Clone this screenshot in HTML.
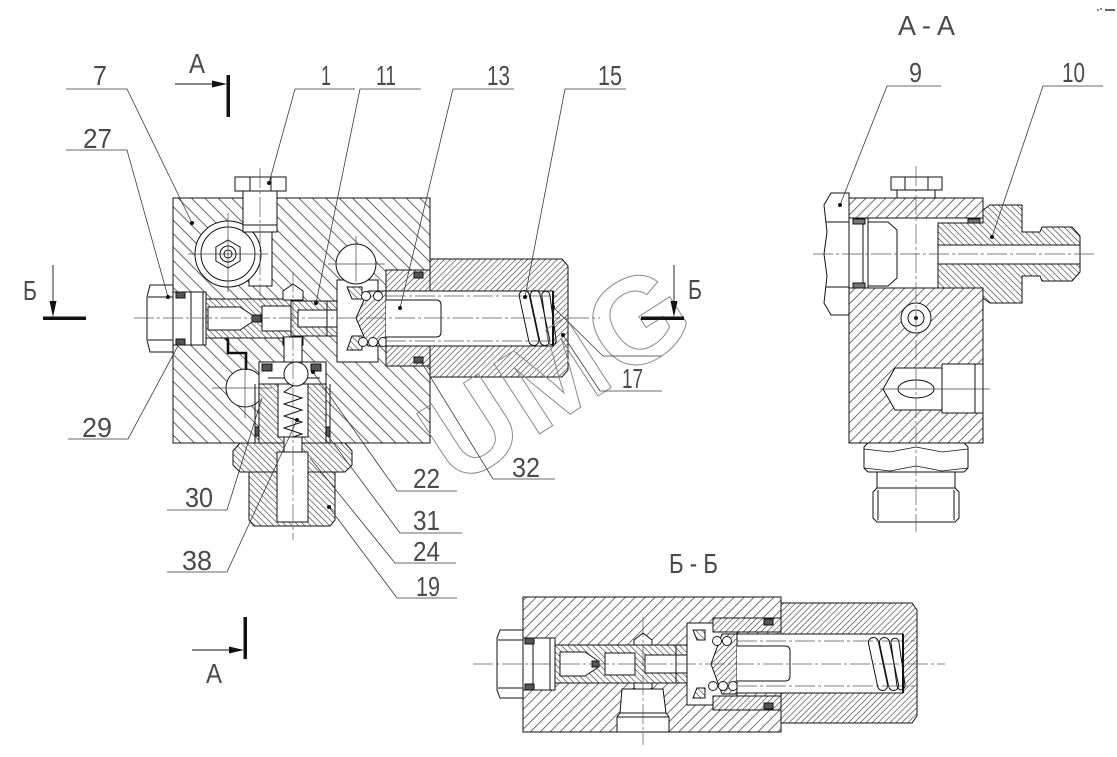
<!DOCTYPE html>
<html><head><meta charset="utf-8"><style>
html,body{margin:0;padding:0;background:#fff;}
svg{display:block;}
text{font-family:"Liberation Sans",sans-serif;fill:#4a4a4a;}
.l{stroke:#3a3a3a;stroke-width:0.8;fill:none}
.c{stroke:#555;stroke-width:0.7;stroke-dasharray:20 3 3 3;fill:none}
.t{stroke:#444;stroke-width:0.7;fill:none}
</style></head><body>
<svg width="1117" height="757" viewBox="0 0 1117 757" xmlns="http://www.w3.org/2000/svg">
<defs>
<pattern id="hb10" patternUnits="userSpaceOnUse" width="9.5" height="9.5" patternTransform="rotate(-45)"><rect width="9.5" height="9.5" fill="#fff"/><line x1="4.75" y1="-1" x2="4.75" y2="10.5" stroke="#333" stroke-width="0.75"/></pattern>
<pattern id="hb4" patternUnits="userSpaceOnUse" width="4.4" height="4.4" patternTransform="rotate(-45)"><rect width="4.4" height="4.4" fill="#fff"/><line x1="2.2" y1="-1" x2="2.2" y2="5.4" stroke="#333" stroke-width="0.6"/></pattern>
<pattern id="hf7" patternUnits="userSpaceOnUse" width="7" height="7" patternTransform="rotate(45)"><rect width="7" height="7" fill="#fff"/><line x1="3.5" y1="-1" x2="3.5" y2="8" stroke="#333" stroke-width="0.7"/></pattern>
<pattern id="hf4" patternUnits="userSpaceOnUse" width="4.2" height="4.2" patternTransform="rotate(45)"><rect width="4.2" height="4.2" fill="#fff"/><line x1="2.1" y1="-1" x2="2.1" y2="5.2" stroke="#333" stroke-width="0.6"/></pattern>
</defs>

<!-- ================= MAIN VIEW ================= -->
<g stroke="#111" stroke-width="1">
<rect x="173" y="198" width="257" height="245" fill="url(#hb10)"/>
<rect x="245" y="198" width="31" height="34" fill="#fff"/>
<rect x="249" y="232" width="23" height="54" fill="#fff"/>
<circle cx="228" cy="254" r="33" fill="#fff"/>
<circle cx="228" cy="254" r="27" fill="none"/>
<polygon points="228,240 240.1,247 240.1,261 228,268 215.9,261 215.9,247" fill="none"/>
<circle cx="228" cy="254" r="8" fill="none"/>
<circle cx="228" cy="254" r="4" fill="none"/>
<rect x="235" y="177" width="51" height="14" fill="#fff"/>
<line x1="250" y1="177" x2="250" y2="191"/><line x1="271" y1="177" x2="271" y2="191"/>
<rect x="243" y="191" width="34" height="41" fill="#fff"/>
<line x1="243" y1="225" x2="277" y2="225"/>
<polygon points="150,285 173,285 173,352 150,352 147,340 147,297" fill="#fff"/>
<line x1="148" y1="297" x2="173" y2="297"/><line x1="148" y1="340" x2="173" y2="340"/>
<rect x="173" y="292" width="33" height="53" fill="#fff"/>
<line x1="191" y1="292" x2="191" y2="345"/><line x1="203" y1="292" x2="203" y2="345"/>
<rect x="176" y="292" width="9" height="6" fill="#555"/>
<rect x="176" y="339" width="9" height="6" fill="#555"/>
<rect x="206" y="299" width="85" height="39" fill="url(#hb4)"/>
<polygon points="208,307 240,307 252,315 252,322 240,330 208,330" fill="#fff"/>
<rect x="252" y="315" width="9" height="7" fill="#555"/>
<rect x="262" y="306" width="29" height="25" fill="#fff"/>
<polygon points="283,300 283,291 293,284 303,291 303,300" fill="#fff"/>
<polygon points="283,337 283,345 293,352 303,345 303,337" fill="#fff"/>
<rect x="291" y="301" width="61" height="35" fill="url(#hb4)"/>
<rect x="298" y="310" width="54" height="17" fill="#fff"/>
<line x1="327" y1="301" x2="327" y2="336"/>
<rect x="284" y="338" width="18" height="26" fill="#fff" stroke="none"/>
<line x1="284" y1="338" x2="284" y2="362"/><line x1="302" y1="338" x2="302" y2="362"/>
<polygon points="337,280 378,280 378,291 386,291 386,346 378,346 378,362 337,362" fill="#fff"/>
<circle cx="356" cy="264" r="20" fill="#fff"/>
<polygon points="347,287 362,287 362,299 352,299" fill="url(#hb4)"/>
<polygon points="352,336 362,336 362,350 347,350" fill="url(#hb4)"/>
<polygon points="386,291 368,291 356,318 368,346 386,346" fill="url(#hf4)"/>
<g fill="#fff" stroke-width="0.9">
<circle cx="366" cy="296" r="4.5"/><circle cx="378" cy="296" r="4.5"/>
<circle cx="363" cy="342" r="4.5"/><circle cx="373" cy="342" r="4.5"/><circle cx="383" cy="342" r="4.5"/>
</g>
<polygon points="430,259 562,259 568,266 568,370 562,377 430,377" fill="url(#hf4)"/>
<rect x="386" y="270" width="44" height="21" fill="url(#hf4)"/>
<rect x="386" y="346" width="44" height="20" fill="url(#hf4)"/>
<rect x="414" y="272" width="9" height="6" fill="#555"/>
<rect x="414" y="357" width="9" height="6" fill="#555"/>
<rect x="386" y="291" width="167" height="55" fill="#fff"/>
<path d="M386,300 H436 Q441,300 441,305 V332 Q441,337 436,337 H386" fill="#fff"/>
<g fill="none" stroke-width="1">
<rect x="-5" y="-28" width="10" height="56" rx="5" transform="translate(529,318) rotate(-12)"/>
<rect x="-5" y="-28" width="10" height="56" rx="5" transform="translate(540,318) rotate(-12)"/>
<rect x="-4" y="-27" width="8" height="54" rx="4" transform="translate(549,318) rotate(-8)"/>
</g>
<line x1="553" y1="291" x2="553" y2="346" stroke-width="2"/>
<circle cx="245" cy="388" r="19" fill="#fff"/>
<polyline points="226,338 228,340 228,353 246,353 246,370" fill="none" stroke-width="2.6"/>
<rect x="259" y="362" width="67" height="22" fill="#fff"/>
<rect x="262" y="364" width="10" height="7" fill="#555"/>
<rect x="311" y="364" width="10" height="7" fill="#555"/>
<line x1="268" y1="378" x2="320" y2="378"/>
<rect x="259" y="384" width="67" height="59" fill="url(#hb4)"/>
<line x1="255" y1="384" x2="255" y2="443"/><line x1="330" y1="384" x2="330" y2="443"/>
<rect x="255" y="427" width="4" height="9" fill="#555"/>
<rect x="326" y="427" width="4" height="9" fill="#555"/>
<rect x="278" y="384" width="30" height="53" fill="#fff"/>
<circle cx="296" cy="374" r="12" fill="#fff"/>
<polyline points="293,386 284,392 302,398 284,404 302,410 284,416 302,422 284,428 302,434 293,437" fill="none" stroke-width="1"/>
<polygon points="240,443 345,443 352,451 352,465 345,472 240,472 233,465 233,451" fill="url(#hb4)"/>
<polygon points="249,472 335,472 335,520 330,526 254,526 249,520" fill="url(#hb4)"/>
<rect x="284" y="437" width="18" height="15" fill="#fff"/>
<rect x="277" y="452" width="31" height="70" fill="#fff"/>
</g>
<line class="c" x1="134" y1="318" x2="600" y2="318"/>
<line class="c" x1="293" y1="272" x2="293" y2="540"/>
<line class="c" x1="260" y1="168" x2="260" y2="296"/>
<line class="t" x1="188" y1="254" x2="268" y2="254"/><line class="t" x1="228" y1="213" x2="228" y2="292"/>
<line class="t" x1="328" y1="264" x2="385" y2="264"/><line class="t" x1="356" y1="236" x2="356" y2="282"/>
<line class="t" x1="212" y1="388" x2="272" y2="388"/><line class="t" x1="245" y1="360" x2="245" y2="418"/>
<line class="c" x1="386" y1="296" x2="560" y2="296"/><line class="c" x1="386" y1="341" x2="560" y2="341"/>

<!-- ================= A-A VIEW ================= -->
<g stroke="#111" stroke-width="1">
<rect x="891" y="177" width="51" height="13" fill="#fff"/>
<line x1="905" y1="177" x2="905" y2="190"/><line x1="928" y1="177" x2="928" y2="190"/>
<rect x="897" y="190" width="38" height="8" fill="#fff"/>
<rect x="849" y="198" width="134" height="20" fill="url(#hf7)"/>
<rect x="849" y="218" width="134" height="70" fill="#fff"/>
<rect x="849" y="288" width="134" height="155" fill="url(#hf7)"/>
<line x1="863" y1="218" x2="863" y2="288"/><line x1="868" y1="218" x2="868" y2="288"/>
<polyline points="868,222 888,222 897,230 897,278 888,286 868,286" fill="none"/>
<rect x="853" y="219" width="12" height="5" fill="#777"/><rect x="853" y="283" width="12" height="5" fill="#777"/>
<rect x="968" y="219" width="12" height="5" fill="#777"/><rect x="968" y="283" width="12" height="5" fill="#777"/>
<polygon points="831,193 849,193 849,315 831,315 824,303 827,276 824,254 827,232 824,205" fill="#fff"/>
<line x1="826" y1="222" x2="849" y2="222"/><line x1="826" y1="287" x2="849" y2="287"/>
<polygon points="938,223 983,223 983,210 990,205 1022,205 1022,232 1040,232 1042,227 1072,227 1080,236 1080,272 1072,281 1042,281 1040,276 1022,276 1022,303 990,303 983,298 983,288 938,288" fill="url(#hb4)"/>
<rect x="938" y="245" width="142" height="19" fill="#fff"/>
<circle cx="916" cy="318" r="15" fill="#fff"/>
<circle cx="916" cy="318" r="8" fill="none"/>
<circle cx="916" cy="318" r="1.5" fill="#111"/>
<polygon points="883,389 895,368 942,368 942,364 983,364 983,413 942,413 942,410 895,410" fill="#fff"/>
<line x1="942" y1="364" x2="942" y2="413"/><line x1="975" y1="364" x2="975" y2="413"/>
<ellipse cx="916" cy="389" rx="18" ry="9" fill="none"/>
<polygon points="864,447 868,443 964,443 968,447 968,468 964,472 868,472 864,468" fill="#fff"/>
<polyline points="864,449 890,452 916,447 942,452 968,449" fill="none" stroke-width="0.8"/>
<polyline points="864,468 890,471 916,466 942,471 968,468" fill="none" stroke-width="0.8"/>
<rect x="877" y="472" width="78" height="16" fill="#fff"/>
<polygon points="873,492 877,488 955,488 959,492 959,518 955,522 877,522 873,518" fill="#fff"/>
<line x1="878" y1="490" x2="878" y2="520"/><line x1="954" y1="490" x2="954" y2="520"/>
</g>
<line class="c" x1="813" y1="254" x2="1097" y2="254"/>
<line class="c" x1="916" y1="166" x2="916" y2="532"/>
<line class="t" x1="880" y1="389" x2="990" y2="389"/>

<!-- ================= Б-Б VIEW ================= -->
<g stroke="#111" stroke-width="1">
<rect x="523" y="597" width="258" height="135" fill="url(#hf7)"/>
<polygon points="781,603 912,603 917,610 917,716 912,723 781,723" fill="url(#hf4)"/>
<polygon points="500,630 523,630 523,698 500,698 497,690 497,638" fill="#fff"/>
<line x1="498" y1="640" x2="523" y2="640"/><line x1="498" y1="688" x2="523" y2="688"/>
<rect x="523" y="638" width="32" height="52" fill="#fff"/>
<line x1="533" y1="638" x2="533" y2="690"/><line x1="550" y1="638" x2="550" y2="690"/>
<rect x="525" y="638" width="9" height="6" fill="#555"/><rect x="525" y="684" width="9" height="6" fill="#555"/>
<rect x="555" y="645" width="135" height="38" fill="url(#hb4)"/>
<polygon points="560,652 585,652 597,660 597,668 585,676 560,676" fill="#fff"/>
<rect x="592" y="661" width="7" height="6" fill="#555"/>
<rect x="605" y="653" width="30" height="22" fill="#fff"/>
<rect x="645" y="655" width="45" height="18" fill="#fff"/>
<line x1="676" y1="645" x2="676" y2="683"/>
<polygon points="634,645 634,640 643,633 652,640 652,645" fill="#fff"/>
<polygon points="634,683 634,688 643,694 652,688 652,683" fill="#fff"/>
<polygon points="687,623 713,623 713,618 781,618 781,632 737,632 737,696 781,696 781,710 713,710 713,705 687,705" fill="#fff"/>
<rect x="713" y="618" width="68" height="14" fill="url(#hf4)"/>
<rect x="713" y="696" width="68" height="14" fill="url(#hf4)"/>
<rect x="764" y="619" width="9" height="6" fill="#555"/><rect x="764" y="703" width="9" height="6" fill="#555"/>
<polygon points="693,630 705,630 705,640 697,640" fill="url(#hb4)"/>
<polygon points="697,688 705,688 705,698 693,698" fill="url(#hb4)"/>
<polygon points="737,634 722,634 711,664 722,694 737,694" fill="url(#hf4)"/>
<g fill="#fff" stroke-width="0.9">
<circle cx="717" cy="641" r="4.5"/><circle cx="727" cy="641" r="4.5"/>
<circle cx="713" cy="686" r="4.5"/><circle cx="723" cy="686" r="4.5"/><circle cx="733" cy="686" r="4.5"/>
</g>
<rect x="737" y="634" width="166" height="59" fill="#fff"/>
<path d="M737,646 H785 Q790,646 790,651 V676 Q790,681 785,681 H737" fill="#fff"/>
<g fill="none" stroke-width="1">
<rect x="-5" y="-27" width="10" height="54" rx="5" transform="translate(878,664) rotate(-12)"/>
<rect x="-5" y="-27" width="10" height="54" rx="5" transform="translate(889,664) rotate(-12)"/>
<rect x="-4" y="-26" width="8" height="52" rx="4" transform="translate(898,664) rotate(-8)"/>
</g>
<line x1="903" y1="634" x2="903" y2="693" stroke-width="2"/>
<path d="M622,689 H663 L666,713 L669,717 V732 H617 V717 L620,713 Z" fill="#fff"/>
<line x1="620" y1="713" x2="666" y2="713"/><line x1="617" y1="717" x2="669" y2="717"/>
</g>
<line class="c" x1="473" y1="664" x2="945" y2="664"/>
<line class="c" x1="643" y1="617" x2="643" y2="745"/>
<line class="c" x1="737" y1="641" x2="915" y2="641"/><line class="c" x1="737" y1="686" x2="915" y2="686"/>

<!-- ================= WATERMARK ================= -->
<text transform="translate(556,372) rotate(-33)" text-anchor="middle" y="43" font-size="122" font-weight="bold" letter-spacing="3" style="fill:none;stroke:#8a8a8a;stroke-width:1">UMG</text>

<!-- ================= LEADERS ================= -->
<g class="l">
<polyline points="66,89 127,89 192,223"/>
<polyline points="66,150 127,150 168,297"/>
<polyline points="355,89 295,89 269,183"/>
<polyline points="421,89 360,89 316,303"/>
<polyline points="514,89 453,89 400,308"/>
<polyline points="626,89 565,89 525,297"/>
<polyline points="68,439 128,439 180,342"/>
<polyline points="167,510 227,510 262,398"/>
<polyline points="167,572 227,572 297,420"/>
<polyline points="457,491 397,491 313,372"/>
<polyline points="462,533 400,533 325,432"/>
<polyline points="456,563 395,563 310,458"/>
<polyline points="457,598 397,598 329,507"/>
<polyline points="555,479 493,479 420,360"/>
<polyline points="662,356 603,356 553,307"/>
<polyline points="662,391 600,391 563,335"/>
<polyline points="941,86 887,86 840,205"/>
<polyline points="1103,86 1043,86 992,237"/>
</g>
<g fill="#111">
<circle cx="192" cy="223" r="2"/><circle cx="168" cy="297" r="2"/><circle cx="269" cy="183" r="2"/>
<circle cx="316" cy="303" r="2"/><circle cx="400" cy="308" r="2"/><circle cx="525" cy="297" r="2"/>
<circle cx="297" cy="420" r="2"/><circle cx="313" cy="372" r="2"/><circle cx="329" cy="507" r="2"/>
<circle cx="553" cy="307" r="2"/><circle cx="563" cy="335" r="2"/><circle cx="840" cy="205" r="2"/>
<circle cx="992" cy="237" r="2"/>
</g>

<!-- ================= SECTION ARROWS ================= -->
<g fill="#111" stroke="#111">
<line x1="175" y1="84" x2="215" y2="84" stroke-width="0.9"/>
<polygon points="212,80.5 227,84 212,87.5" stroke="none"/>
<rect x="226.5" y="75" width="3.5" height="42" stroke="none"/>
<line x1="192" y1="650" x2="232" y2="650" stroke-width="0.9"/>
<polygon points="229,646.5 244,650 229,653.5" stroke="none"/>
<rect x="243.5" y="617" width="3.5" height="42" stroke="none"/>
<line x1="53" y1="265" x2="53" y2="304" stroke-width="0.9"/>
<polygon points="49.5,301 53,317 56.5,301" stroke="none"/>
<rect x="43" y="316.5" width="43" height="3.5" stroke="none"/>
<line x1="674" y1="265" x2="674" y2="304" stroke-width="0.9"/>
<polygon points="670.5,301 674,317 677.5,301" stroke="none"/>
<rect x="641" y="316.5" width="43" height="3.5" stroke="none"/>
</g>

<!-- ================= TEXT ================= -->
<g font-size="28">
<text x="93" y="85" textLength="14" lengthAdjust="spacingAndGlyphs">7</text>
<text x="189" y="73" textLength="16" lengthAdjust="spacingAndGlyphs">A</text>
<text x="83" y="148" textLength="29" lengthAdjust="spacingAndGlyphs">27</text>
<text x="321" y="85" textLength="10" lengthAdjust="spacingAndGlyphs">1</text>
<text x="376" y="85" textLength="20" lengthAdjust="spacingAndGlyphs">11</text>
<text x="487" y="85" textLength="23" lengthAdjust="spacingAndGlyphs">13</text>
<text x="598" y="85" textLength="24" lengthAdjust="spacingAndGlyphs">15</text>
<text x="909" y="82" textLength="13" lengthAdjust="spacingAndGlyphs">9</text>
<text x="1062" y="82" textLength="23" lengthAdjust="spacingAndGlyphs">10</text>
<text x="898" y="35" textLength="57" lengthAdjust="spacingAndGlyphs">A - A</text>
<text x="23" y="300" textLength="14" lengthAdjust="spacingAndGlyphs">Б</text>
<text x="688" y="299" textLength="14" lengthAdjust="spacingAndGlyphs">Б</text>
<text x="82" y="437" textLength="30" lengthAdjust="spacingAndGlyphs">29</text>
<text x="185" y="507" textLength="28" lengthAdjust="spacingAndGlyphs">30</text>
<text x="182" y="570" textLength="30" lengthAdjust="spacingAndGlyphs">38</text>
<text x="413" y="488" textLength="27" lengthAdjust="spacingAndGlyphs">22</text>
<text x="413" y="530" textLength="27" lengthAdjust="spacingAndGlyphs">31</text>
<text x="413" y="561" textLength="27" lengthAdjust="spacingAndGlyphs">24</text>
<text x="416" y="596" textLength="24" lengthAdjust="spacingAndGlyphs">19</text>
<text x="512" y="477" textLength="28" lengthAdjust="spacingAndGlyphs">32</text>
<text x="622" y="388" textLength="21" lengthAdjust="spacingAndGlyphs">17</text>
<text x="669" y="573" textLength="49" lengthAdjust="spacingAndGlyphs">Б - Б</text>
<text x="206" y="683" textLength="16" lengthAdjust="spacingAndGlyphs">A</text>
</g>
<g fill="#666"><circle cx="1098" cy="10" r="1"/><circle cx="1101" cy="9" r="1"/><rect x="1105" y="9" width="10" height="2"/></g>
</svg>
</body></html>
